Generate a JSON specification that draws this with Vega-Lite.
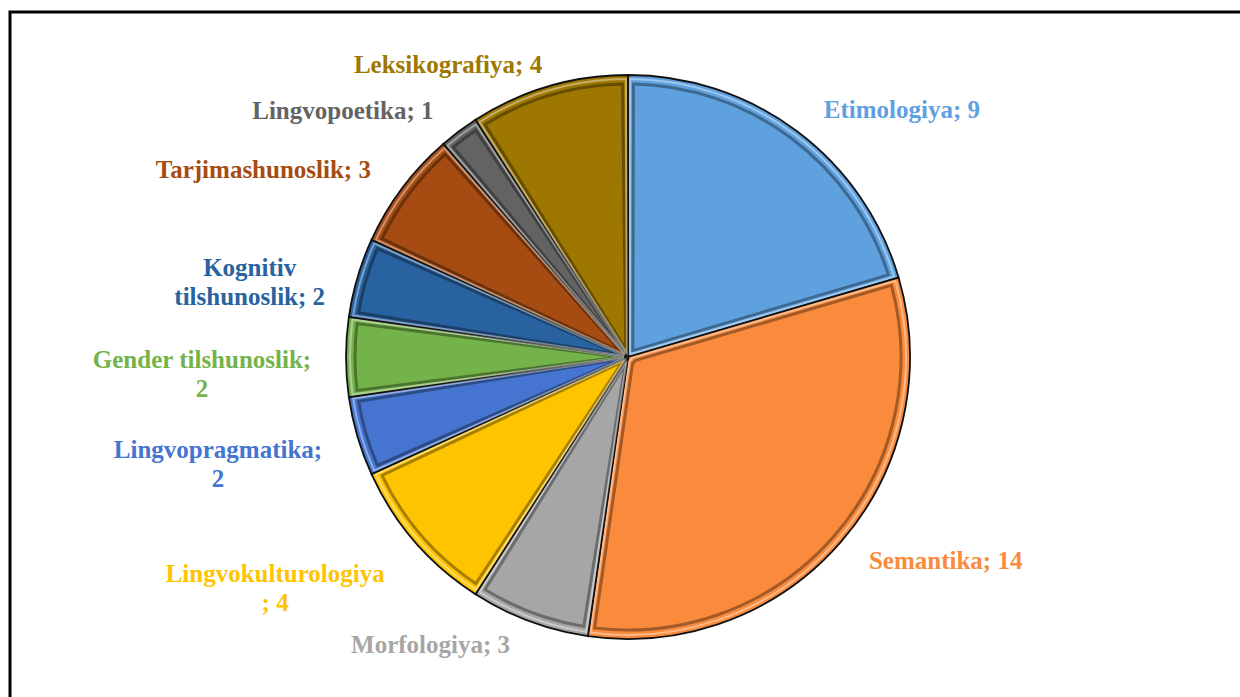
{
  "$schema": "https://vega.github.io/schema/vega-lite/v6.json",
  "width": 1236,
  "height": 690,
  "autosize": {"type": "none"},
  "padding": {"left": 10, "top": 12, "right": -6, "bottom": -5},
  "background": "white",
  "config": {"view": {"stroke": null}},
  "data": {
    "values": [
      {"i": 1, "cat": "Etimologiya", "value": 9, "label": "Etimologiya; 9"},
      {"i": 2, "cat": "Semantika", "value": 14, "label": "Semantika; 14"},
      {"i": 3, "cat": "Morfologiya", "value": 3, "label": "Morfologiya; 3"},
      {"i": 4, "cat": "Lingvokulturologiya", "value": 4, "label": "Lingvokulturologiya\n; 4"},
      {"i": 5, "cat": "Lingvopragmatika", "value": 2, "label": "Lingvopragmatika;\n2"},
      {"i": 6, "cat": "Gender tilshunoslik", "value": 2, "label": "Gender tilshunoslik;\n2"},
      {"i": 7, "cat": "Kognitiv tilshunoslik", "value": 2, "label": "Kognitiv\ntilshunoslik;  2"},
      {"i": 8, "cat": "Tarjimashunoslik", "value": 3, "label": "Tarjimashunoslik;  3"},
      {"i": 9, "cat": "Lingvopoetika", "value": 1, "label": "Lingvopoetika; 1"},
      {"i": 10, "cat": "Leksikografiya", "value": 4, "label": "Leksikografiya; 4"}
    ]
  },
  "layer": [
    {
      "data": {"values": [{"frame": 1}]},
      "mark": {"type": "rect", "fillOpacity": 0, "stroke": "#000000", "strokeWidth": 3},
      "encoding": {}
    },
    {
      "encoding": {
        "theta": {"field": "value", "type": "quantitative", "stack": true},
        "order": {"field": "i", "type": "quantitative"},
        "color": {
          "field": "cat",
          "type": "nominal",
          "legend": null,
          "scale": {
            "domain": ["Etimologiya", "Semantika", "Morfologiya", "Lingvokulturologiya", "Lingvopragmatika", "Gender tilshunoslik", "Kognitiv tilshunoslik", "Tarjimashunoslik", "Lingvopoetika", "Leksikografiya"],
            "range": ["#5FA0DE", "#FA8A3C", "#A6A6A6", "#FFC400", "#4575D0", "#74B34A", "#2862A0", "#A64C12", "#636363", "#9E7700"]
          }
        }
      },
      "layer": [
        {"mark": {"type": "arc", "outerRadius": 282, "stroke": "#111111", "strokeWidth": 1.8}},
        {"mark": {"type": "arc", "outerRadius": 273, "innerRadius": 8, "padAngle": 0.04, "fillOpacity": 0, "stroke": "#000000", "strokeOpacity": 0.35, "strokeWidth": 3}},
        {"mark": {"type": "arc", "outerRadius": 278, "innerRadius": 4, "padAngle": 0.015, "fillOpacity": 0, "stroke": "#ffffff", "strokeOpacity": 0.4, "strokeWidth": 2}},
        {"mark": {"type": "text", "radius": 362, "dx": 57, "dy": 43, "font": "Liberation Serif", "fontSize": 25, "fontWeight": "bold", "lineBreak": "\n", "lineHeight": 29},
         "encoding": {"text": {"condition": {"test": "datum.cat === 'Etimologiya'", "field": "label", "type": "nominal"}, "value": ""}}},
        {"mark": {"type": "text", "radius": 374, "dx": 35, "dy": -41, "font": "Liberation Serif", "fontSize": 25, "fontWeight": "bold", "lineBreak": "\n", "lineHeight": 29},
         "encoding": {"text": {"condition": {"test": "datum.cat === 'Semantika'", "field": "label", "type": "nominal"}, "value": ""}}},
        {"mark": {"type": "text", "radius": 339, "dx": -79, "dy": -30, "font": "Liberation Serif", "fontSize": 25, "fontWeight": "bold", "lineBreak": "\n", "lineHeight": 29},
         "encoding": {"text": {"condition": {"test": "datum.cat === 'Morfologiya'", "field": "label", "type": "nominal"}, "value": ""}}},
        {"mark": {"type": "text", "radius": 410, "dx": -43, "dy": -51, "font": "Liberation Serif", "fontSize": 25, "fontWeight": "bold", "lineBreak": "\n", "lineHeight": 29},
         "encoding": {"text": {"condition": {"test": "datum.cat === 'Lingvokulturologiya'", "field": "label", "type": "nominal"}, "value": ""}}},
        {"mark": {"type": "text", "radius": 419, "dx": -8, "dy": -25, "font": "Liberation Serif", "fontSize": 25, "fontWeight": "bold", "lineBreak": "\n", "lineHeight": 29},
         "encoding": {"text": {"condition": {"test": "datum.cat === 'Lingvopragmatika'", "field": "label", "type": "nominal"}, "value": ""}}},
        {"mark": {"type": "text", "radius": 426, "dx": 0, "dy": 3, "font": "Liberation Serif", "fontSize": 25, "fontWeight": "bold", "lineBreak": "\n", "lineHeight": 29},
         "encoding": {"text": {"condition": {"test": "datum.cat === 'Gender tilshunoslik'", "field": "label", "type": "nominal"}, "value": ""}}},
        {"mark": {"type": "text", "radius": 387, "dx": -7, "dy": 20, "font": "Liberation Serif", "fontSize": 25, "fontWeight": "bold", "lineBreak": "\n", "lineHeight": 29},
         "encoding": {"text": {"condition": {"test": "datum.cat === 'Kognitiv tilshunoslik'", "field": "label", "type": "nominal"}, "value": ""}}},
        {"mark": {"type": "text", "radius": 403, "dx": -42, "dy": 55, "font": "Liberation Serif", "fontSize": 25, "fontWeight": "bold", "lineBreak": "\n", "lineHeight": 29},
         "encoding": {"text": {"condition": {"test": "datum.cat === 'Tarjimashunoslik'", "field": "label", "type": "nominal"}, "value": ""}}},
        {"mark": {"type": "text", "radius": 369, "dx": -64, "dy": 49, "font": "Liberation Serif", "fontSize": 25, "fontWeight": "bold", "lineBreak": "\n", "lineHeight": 29},
         "encoding": {"text": {"condition": {"test": "datum.cat === 'Lingvopoetika'", "field": "label", "type": "nominal"}, "value": ""}}},
        {"mark": {"type": "text", "radius": 330, "dx": -87, "dy": 25, "font": "Liberation Serif", "fontSize": 25, "fontWeight": "bold", "lineBreak": "\n", "lineHeight": 29},
         "encoding": {"text": {"condition": {"test": "datum.cat === 'Leksikografiya'", "field": "label", "type": "nominal"}, "value": ""}}}
      ]
    }
  ]
}
